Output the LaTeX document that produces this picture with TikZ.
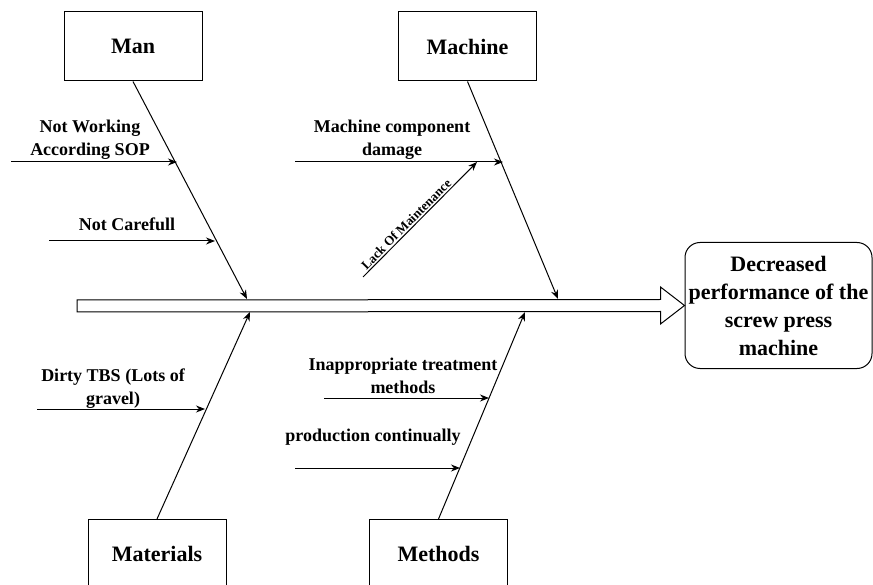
\documentclass[tikz,border=0pt]{standalone}
\usepackage{fontspec}
\setmainfont{Liberation Serif}
\usetikzlibrary{arrows.meta,calc}
\begin{document}
\begin{tikzpicture}[x=1pt,y=-1pt,
  cat/.style={draw, line width=1pt, minimum width=138pt, minimum height=69pt, inner sep=0pt,
    font=\fontsize{22}{28}\selectfont\bfseries},
  bone/.style={-{Stealth[length=9pt,width=7pt]}, line width=1pt},
  lbl/.style={font=\fontsize{18}{23}\selectfont\bfseries, align=center, inner sep=0pt},
  effbox/.style={draw, line width=1pt, rounded corners=15pt, minimum width=187pt, minimum height=126pt,
    inner sep=0pt, align=center, font=\fontsize{22}{28}\selectfont\bfseries},
  spinestyle/.style={draw, line width=1pt, fill=white}
]
\useasboundingbox (0,0) rectangle (873,585);

% category boxes
\node[cat] (man) at (133,46.5) {Man};
\node[cat] (machine) at (467.5,46.5) {Machine};
\node[cat] (materials) at (157,554) {Materials};
\node[cat] (methods) at (438.5,554) {Methods};

% effect
\node[effbox] (eff) at (778.5,305.5) {Decreased\\performance of the\\screw press\\machine};

% spine
\coordinate (spine) at (77,306);
\draw[spinestyle] ($(spine)+(0,-6)$) -- ($(eff.west)+(-24,-6)$) -- ($(eff.west)+(-24,-18.5)$)
  -- (eff.west) -- ($(eff.west)+(-24,18.5)$) -- ($(eff.west)+(-24,6)$) -- ($(spine)+(0,6)$) -- cycle;

% bone tips
\coordinate (manT) at (247,299);
\coordinate (macT) at (558,299);
\coordinate (matT) at (250,312);
\coordinate (metT) at (525,312);
\draw[bone] (man.south) -- (manT);
\draw[bone] (machine.south) -- (macT);
\draw[bone] (materials.north) -- (matT);
\draw[bone] (methods.north) -- (metT);

% causes: Man
\coordinate (a1s) at (11,162);  \coordinate (a1e) at (177,162);
\coordinate (a2s) at (49,241);  \coordinate (a2e) at (215,241);
\draw[bone] (a1s) -- (a1e);
\draw[bone] (a2s) -- (a2e);
\node[lbl] (t1) at (90,140) {Not Working\\According SOP};
\node[lbl] (t2) at (127,224) {Not Carefull};

% causes: Machine
\coordinate (b1s) at (295,162); \coordinate (b1e) at (503,162);
\draw[bone] (b1s) -- (b1e);
\node[lbl] (t3) at (392,140) {Machine component\\damage};
\coordinate (lmS) at (363,277); \coordinate (lmE) at (477,162);
\draw[bone] (lmS) -- node[pos=0.42, sloped, above, inner sep=1.5pt,
  font=\fontsize{13}{15}\selectfont\bfseries] (t4) {Lack Of Maintenance} (lmE);

% causes: Materials
\coordinate (c1s) at (37,409); \coordinate (c1e) at (205,409);
\draw[bone] (c1s) -- (c1e);
\node[lbl] (t5) at (113,389) {Dirty TBS (Lots of\\gravel)};

% causes: Methods
\coordinate (d1s) at (324,398); \coordinate (d1e) at (489,398);
\coordinate (d2s) at (295,468); \coordinate (d2e) at (460,468);
\draw[bone] (d1s) -- (d1e);
\draw[bone] (d2s) -- (d2e);
\node[lbl] (t6) at (403,376) {Inappropriate treatment\\methods};
\node[lbl] (t7) at (373,437) {production continually};
\end{tikzpicture}
\end{document}
